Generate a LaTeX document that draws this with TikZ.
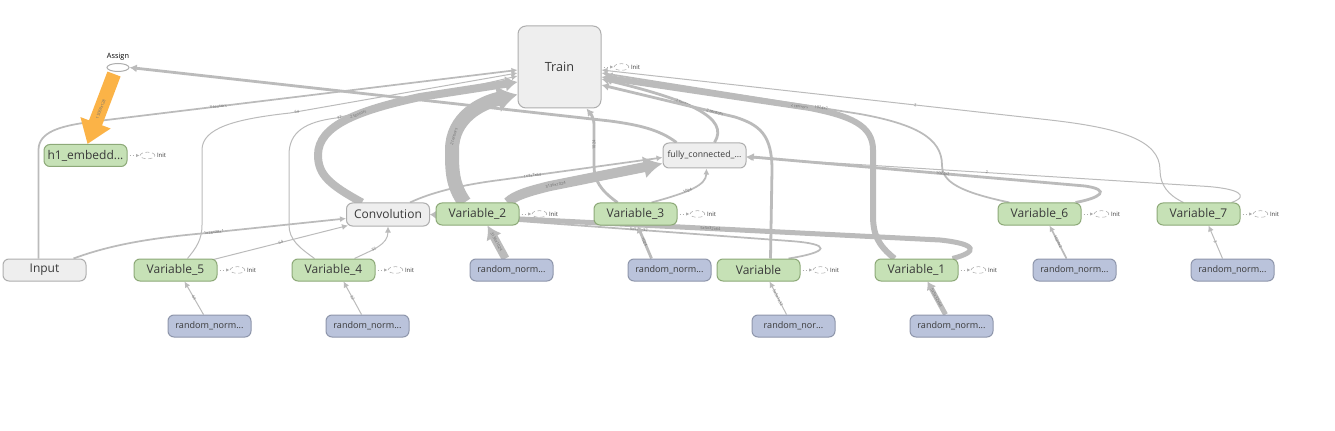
\documentclass[tikz,border=0pt]{standalone}
\usepackage{fontspec}
\setmainfont{Open Sans}
\usetikzlibrary{arrows.meta,shapes.geometric,backgrounds}
\definecolor{grnF}{HTML}{C6E1B6}
\definecolor{grnB}{HTML}{8DA978}
\definecolor{bluF}{HTML}{BAC3DB}
\definecolor{bluB}{HTML}{8E96AB}
\definecolor{gryF}{HTML}{EEEEEE}
\definecolor{gryB}{HTML}{AEAEAE}
\definecolor{edg}{HTML}{BBBBBB}
\definecolor{txt}{HTML}{3A3A3A}
\definecolor{labc}{HTML}{6E6E6E}
\definecolor{orng}{HTML}{FBB347}
\tikzset{
  gnode/.style={draw=grnB, fill=grnF, rounded corners=4.5pt, minimum width=62.25pt,
    minimum height=16.5pt, inner sep=0pt, font=\fontsize{9}{9}\selectfont, text=txt, line width=0.75pt},
  bnode/.style={gnode, draw=bluB, fill=bluF, font=\fontsize{6.8}{6.8}\selectfont},
  wnode/.style={gnode, draw=gryB, fill=gryF},
  ea/.style={draw=edg, -{Latex[length=4.5pt,width=4.5pt]}},
  eb/.style={draw=edg, -{Latex[length=5.5pt,width=6pt]}},
  w1/.style={line width=0.75pt},
  w2/.style={line width=1.3pt},
  w3/.style={line width=2.1pt},
  lab/.style={font=\fontsize{3}{3}\selectfont, text=labc, inner sep=0.3pt, sloped},
  initline/.style={draw=gryB, dotted, line width=0.6pt, -{Latex[length=2.5pt,width=2.5pt]}},
  initell/.style={draw=gryB, densely dashed, ellipse, line width=0.4pt, minimum width=11pt,
    minimum height=5pt, inner sep=0pt},
  inittext/.style={font=\fontsize{4.5}{4.5}\selectfont, text=txt, inner sep=0pt}
}
\begin{document}
\begin{tikzpicture}[x=0.75pt,y=-0.75pt]
\useasboundingbox (0,0) rectangle (1335,431);
% nodes
\node[wnode, minimum height=61.5pt, rounded corners=6pt, font=\fontsize{9.5}{9.5}\selectfont] (train) at (559.5,67) {Train};
\node[draw=gryB, fill=white, ellipse, minimum width=16.5pt, minimum height=6pt, inner sep=0pt, line width=0.75pt] (assign) at (118,67.5) {};
\node[font=\fontsize{5.5}{5.5}\selectfont, text=black, inner sep=0pt] (assignlab) at (118,57) {Assign};
\node[gnode] (h1) at (85.5,155.5) {h1\_embedd...};
\node[wnode, font=\fontsize{6.5}{6.5}\selectfont, minimum height=18.75pt] (fc) at (704.5,155.5) {fully\_connected\_...};
\node[wnode, minimum height=17.25pt] (conv) at (388,214.5) {Convolution};
\node[gnode] (var2) at (477.5,214) {Variable\_2};
\node[gnode] (var3) at (635.5,214) {Variable\_3};
\node[gnode] (var6) at (1039.5,214) {Variable\_6};
\node[gnode] (var7) at (1198.5,214) {Variable\_7};
\node[wnode] (input) at (44.5,270) {Input};
\node[gnode] (var5) at (175.5,270) {Variable\_5};
\node[gnode] (var4) at (333.5,270) {Variable\_4};
\node[bnode] (rn2) at (511.5,270) {random\_norm...};
\node[bnode] (rn3) at (669.5,270) {random\_norm...};
\node[gnode] (var) at (758.5,270) {Variable};
\node[gnode] (var1) at (916.5,270) {Variable\_1};
\node[bnode] (rn6) at (1074.5,270) {random\_norm...};
\node[bnode] (rn7) at (1232.5,270) {random\_norm...};
\node[bnode] (rn5) at (209.5,326) {random\_norm...};
\node[bnode] (rn4) at (367.5,326) {random\_norm...};
\node[bnode] (rnv) at (793.5,326) {random\_nor...};
\node[bnode] (rn1) at (951.5,326) {random\_norm...};
% init markers
\foreach \n in {train,h1,var2,var3,var6,var7,var5,var4,var,var1}{
  \draw[initline] ([shift={(2,0)}]\n.east) -- ([shift={(12,0)}]\n.east);
  \node[initell] (\n-ie) at ([shift={(20,0)}]\n.east) {};
  \node[inittext] (\n-it) at ([shift={(34,0)}]\n.east) {Init};
}
% edges
\begin{scope}[on background layer]
\fill[white] (0,0) rectangle (1335,431);
% fc -> Assign
\draw[eb,w3] ([shift={(-28,0)}]fc.north) .. controls (660,130) and (640,125) .. (610,121) -- node[lab,pos=0.4]{128} (assign.east);
% Input -> Train
\draw[ea,w2] ([shift={(-6,0)}]input.north) -- (38.5,150) .. controls (38.5,132) and (60,126) .. (90,122) -- node[lab,pos=0.3]{3 tensors} ([shift={(0,3)}]train.west);
% Input -> Convolution
\draw[ea,w2] ([shift={(29,0)}]input.north) .. controls (110,245) and (150,238) .. (207,233) -- node[lab,pos=0.05]{1x28x28x1} ([shift={(0,4)}]conv.west);
% Variable_5 -> Train
\draw[ea,w1] ([shift={(12,0)}]var5.north) .. controls (196,248) and (202,240) .. (202,225) -- (202,150) .. controls (202,128) and (235,119) .. (290,113) -- node[lab,pos=0.03]{64} ([shift={(0,6)}]train.west);
% Variable_5 -> Convolution
\draw[ea,w1] ([shift={(38,1)}]var5.north) -- node[lab]{64} ([shift={(2,-1)}]conv.south west);
% Variable_4 -> Train
\draw[ea,w1] ([shift={(-19,0)}]var4.north) .. controls (300,248) and (289,240) .. (289,225) -- (289,155) .. controls (289,132) and (305,122) .. (336,118) -- node[lab,pos=0.02]{32} ([shift={(0,9)}]train.west);
% Variable_4 -> Convolution
\draw[ea,w1] ([shift={(21,0)}]var4.north) .. controls (372,250) and (388,245) .. node[lab,pos=0.4]{32} (conv.south);
% Convolution -> Train
\draw[draw=edg, line width=6pt, -{Latex[length=9pt,width=12pt]}] ([shift={(-26,0)}]conv.north) .. controls (330,185) and (318,175) .. (318,155) .. controls (318,125) and (360,110) .. node[lab,pos=0.6]{2 tensors} (420,97) -- ([shift={(0,15)}]train.west);
% Variable_2 -> Train
\draw[draw=edg, line width=10.5pt, -{Latex[length=15pt,width=21pt]}] ([shift={(-13,0)}]var2.north) .. controls (452,185) and (452,170) .. (452,150) .. controls (452,118) and (480,103) .. node[lab,pos=0.15]{2 tensors} ([shift={(0,-14)}]train.south west);
% Variable_2 -> fully_connected
\draw[draw=edg, line width=7.5pt, -{Latex[length=14pt,width=17pt]}] ([shift={(30,0)}]var2.north) .. controls (515,195) and (530,191) .. (550,186) -- node[lab,pos=0.05]{3136x1024} ([shift={(0,8)}]fc.west);
% Convolution -> fully_connected
\draw[ea,w2] ([shift={(22,0)}]conv.north) .. controls (430,193) and (460,185) .. (500,180) -- node[lab,pos=0.2]{1x7x7x64} ([shift={(0,2)}]fc.west);
% Variable_3 -> Train
\draw[eb,w3] ([shift={(-18,0)}]var3.north) .. controls (600,190) and (594,180) .. (594,165) -- node[lab]{1024} (594,125) .. controls (594,117) and (590,113) .. ([shift={(27,0)}]train.south);
% Variable_3 -> fully_connected
\draw[ea,w2] ([shift={(16,0)}]var3.north) .. controls (690,192) and (706,185) .. node[lab,pos=0.4]{1024} ([shift={(2,0)}]fc.south);
% fully_connected -> Train
\draw[eb,w3] ([shift={(10,0)}]fc.north) .. controls (730,118) and (690,100) .. node[lab,pos=0.6]{2 tensors} ([shift={(0,12)}]train.east);
% Variable -> Train
\draw[eb,w3] ([shift={(12,0)}]var.north) -- (772,170) .. controls (772,135) and (760,125) .. (735,117) -- node[lab,pos=0.15]{2 tensors} ([shift={(0,18)}]train.east);
% Variable_1 -> Train
\draw[draw=edg, line width=4.5pt, -{Latex[length=8pt,width=10pt]}] ([shift={(-22,0)}]var1.north) .. controls (878,245) and (873,235) .. (873,215) -- (873,150) .. controls (873,125) and (850,116) .. (810,108) -- node[lab,pos=0.05]{2 tensors} ([shift={(0,10)}]train.east);
% Variable_6 -> Train
\draw[ea,w2] ([shift={(-30,0)}]var6.north) .. controls (960,192) and (942,182) .. (942,165) .. controls (942,138) and (915,124) .. (860,114) -- node[lab,pos=0.15]{1024x2} ([shift={(0,6)}]train.east);
% Variable_7 -> Train
\draw[ea,w1] ([shift={(-15,0)}]var7.north) .. controls (1168,195) and (1160,185) .. (1160,170) .. controls (1160,140) and (1120,128) .. (1050,120) -- node[lab,pos=0.3]{2} ([shift={(0,3)}]train.east);
% Variable_6 -> fully_connected
\draw[eb,w3] ([shift={(36,0)}]var6.north) .. controls (1100,198) and (1112,190) .. (1085,186) -- node[lab,pos=0.42]{1024x2} ([shift={(0,1)}]fc.east);
% Variable_7 -> fully_connected
\draw[ea,w1] ([shift={(33,0)}]var7.north) .. controls (1250,196) and (1240,188) .. (1200,186) -- node[lab,pos=0.47]{2} ([shift={(0,2)}]fc.east);
% Variable -> Convolution
\draw[ea,w2] ([shift={(30,0)}]var.north) .. controls (830,252) and (832,244) .. (790,241) -- node[lab,pos=0.42]{5x5x1x32} (conv.east);
% Variable_1 -> Convolution
\draw[draw=edg, line width=3.75pt, -{Latex[length=5pt,width=7pt]}] ([shift={(36,0)}]var1.north) .. controls (978,252) and (978,244) .. (940,240) -- node[lab,pos=0.45]{5x5x32x64} (conv.east);
% random_normal -> variables
\draw[draw=edg, line width=6pt, -{Latex[length=10pt,width=13pt]}] ([shift={(-6,0)}]rn2.north) -- node[lab]{3136x1024} ([shift={(10,0)}]var2.south);
\draw[eb,w3] ([shift={(-18,0)}]rn3.north) -- node[lab]{1024} ([shift={(2,0)}]var3.south);
\draw[ea,w1] ([shift={(-6,0)}]rn5.north) -- node[lab]{64} ([shift={(9,0)}]var5.south);
\draw[ea,w1] ([shift={(-6,0)}]rn4.north) -- node[lab]{32} ([shift={(10,0)}]var4.south);
\draw[ea,w1] ([shift={(-7,0)}]rnv.north) -- node[lab]{5x5x1x32} ([shift={(11,0)}]var.south);
\draw[draw=edg, line width=3.75pt, -{Latex[length=6pt,width=8pt]}] ([shift={(-6,0)}]rn1.north) -- node[lab]{5x5x32x64} ([shift={(11,0)}]var1.south);
\draw[ea,w2] ([shift={(-8,0)}]rn6.north) -- node[lab]{1024x2} ([shift={(10,0)}]var6.south);
\draw[ea,w1] ([shift={(-10,0)}]rn7.north) -- node[lab]{2} ([shift={(10,0)}]var7.south);
% Assign -> h1_embedding (orange)
\draw[draw=orng, line width=10.5pt, -{Triangle[length=17pt,width=23pt]}] ([shift={(-4,2)}]assign.south) -- node[lab]{15069x128} ([shift={(2,0)}]h1.north);
\end{scope}
\end{tikzpicture}
\end{document}
